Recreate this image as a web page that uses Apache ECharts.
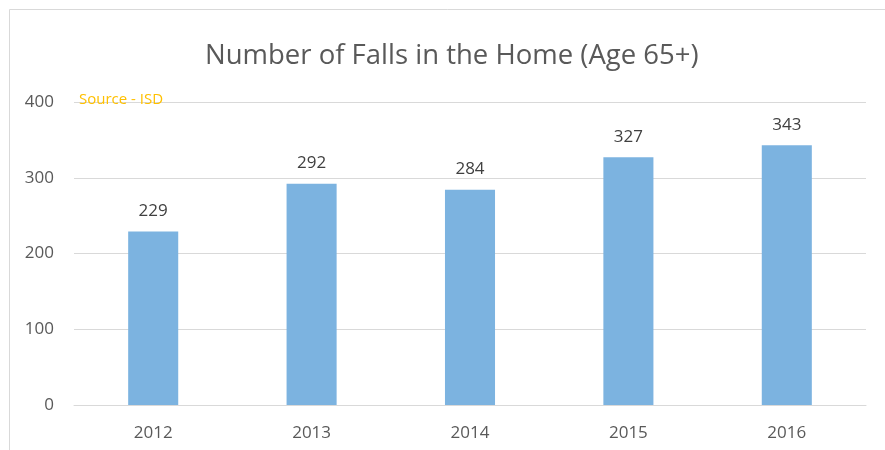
<!DOCTYPE html>
<html><head><meta charset="utf-8">
<script src="https://cdn.jsdelivr.net/npm/echarts@6/dist/echarts.min.js"></script>
<style>html,body{margin:0;padding:0;background:#fff}#c{width:885px;height:450px}</style>
</head><body><div id="c"></div>
<script>
const categories = ['2012', '2013', '2014', '2015', '2016'];
const falls = [229, 292, 284, 327, 343];
const yTicks = [0, 100, 200, 300, 400];
const titleText = 'Number of Falls in the Home (Age 65+)';
const sourceText = 'Source - ISD';

const chart = echarts.init(document.getElementById('c'), null, {renderer: 'canvas'});
const font = 'Open Sans';
chart.setOption({
  animation: false,
  backgroundColor: '#fff',
  title: {
    text: titleText, left: 200, top: 37,
    textStyle: {fontFamily: font, fontSize: 27.5, fontWeight: 'normal', color: '#595959'}
  },
  graphic: [
    {type: 'rect', shape: {x: 9.5, y: 9.5, width: 900, height: 500}, style: {fill: 'none', stroke: '#d9d9d9', lineWidth: 1}, silent: true, z: -1},
    {type: 'text', left: 79, top: 92, style: {text: sourceText, fill: '#FFC000', font: '15px "Open Sans"'}, z: 10}
  ],
  grid: {left: 74, right: 19, top: 102, bottom: 45, containLabel: false},
  xAxis: {
    type: 'category', data: categories,
    axisLine: {show: true, lineStyle: {color: '#d9d9d9'}},
    axisTick: {show: false},
    axisLabel: {fontFamily: font, fontSize: 17, color: '#595959', margin: 20}
  },
  yAxis: {
    type: 'value', min: 0, max: 400, interval: 100,
    axisLine: {show: false}, axisTick: {show: false},
    splitLine: {lineStyle: {color: '#d9d9d9'}},
    axisLabel: {fontFamily: font, fontSize: 17, color: '#595959', margin: 20,
      formatter: v => yTicks.includes(v) ? String(v) : ''}
  },
  series: [{
    type: 'bar', data: falls, barWidth: '31.6%',
    itemStyle: {color: '#7CB3E0'},
    label: {show: true, position: 'top', distance: 12, fontFamily: font, fontSize: 17, color: '#404040'}
  }]
});
</script></body></html>
